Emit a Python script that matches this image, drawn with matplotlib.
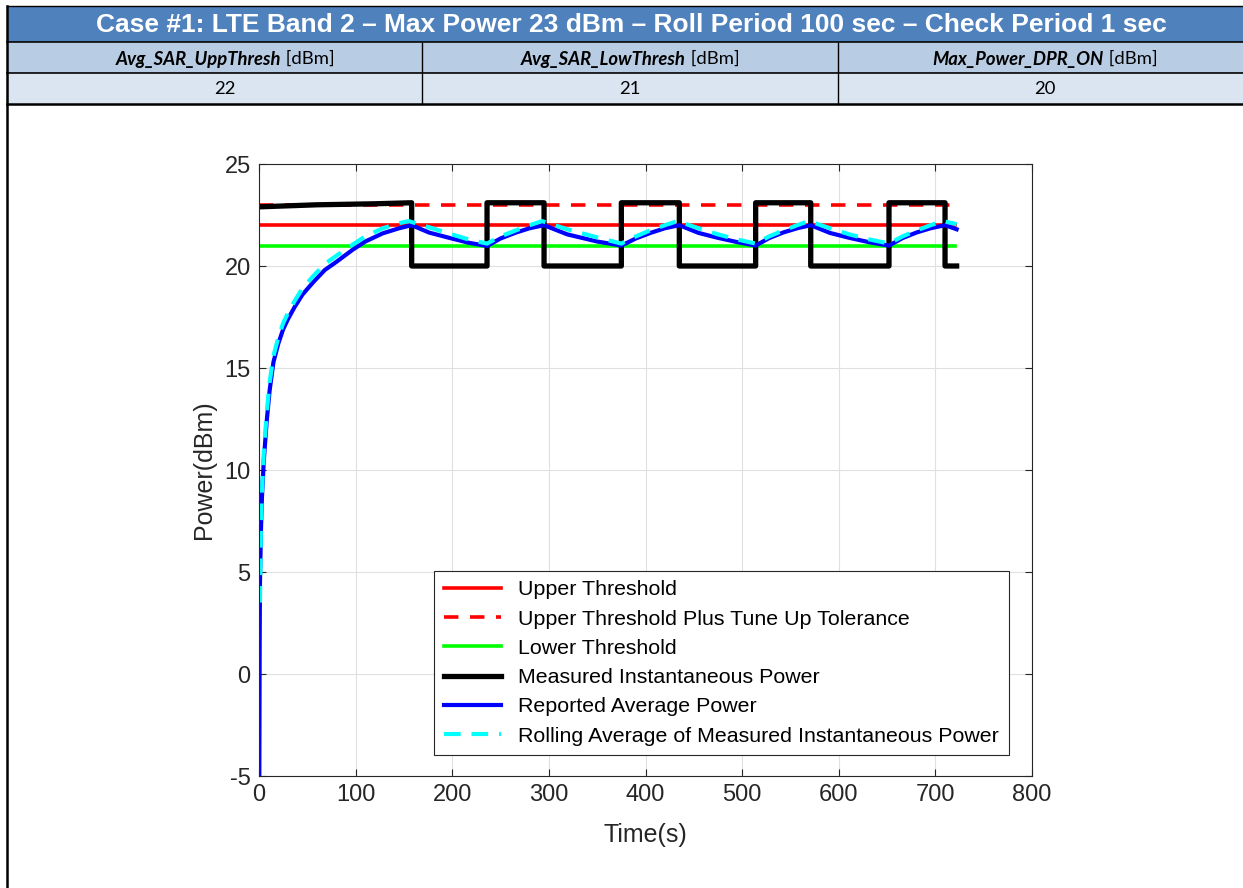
import matplotlib
matplotlib.use("Agg")
import matplotlib.pyplot as plt
from matplotlib.patches import Rectangle

plt.rcParams['font.family'] = ['Liberation Sans', 'DejaVu Sans']
plt.rcParams['axes.unicode_minus'] = False

# header table text
title = 'Case #1: LTE Band 2 \u2013 Max Power 23 dBm \u2013 Roll Period 100 sec \u2013 Check Period 1 sec'
param_names = ['Avg_SAR_UppThresh', 'Avg_SAR_LowThresh', 'Max_Power_DPR_ON']
param_unit = ' [dBm]'
param_values = ['22', '21', '20']

# threshold levels (dBm)
upp_thresh = 22
upp_tol = 23
low_thresh = 21
thresh_t = [0, 720]

# measured instantaneous power (square wave)
black_t = [0, 60, 120, 158, 158, 236, 236, 295, 295, 375, 375, 435, 435,
           514, 514, 571, 571, 652, 652, 710, 710, 722]
black_p = [22.9, 23.0, 23.05, 23.1, 20.0, 20.0, 23.1, 23.1, 20.0, 20.0, 23.1, 23.1, 20.0,
           20.0, 23.1, 23.1, 20.0, 20.0, 23.1, 23.1, 20.0, 20.0]

# reported average power
blue_t = [0.3, 0.7, 1, 2, 3, 5, 8, 11, 15, 20, 25, 30, 37, 45, 56, 68, 80, 97, 110, 128, 145, 158,
          176, 196, 217, 236, 250, 266, 280, 295, 319, 350, 375, 390, 405, 420, 435,
          455, 475, 495, 514, 528, 543, 557, 571, 591, 611, 632, 652, 666, 681, 695, 710, 722]
blue_p = [-5.5, 1.5, 4.5, 7.0, 8.6, 10.5, 12.4, 13.9, 15.3, 16.2, 16.9, 17.4, 18.0, 18.6, 19.2,
          19.8, 20.2, 20.8, 21.2, 21.6, 21.85, 22.0,
          21.64, 21.39, 21.14, 20.98, 21.35, 21.64, 21.85, 22.0, 21.55, 21.2, 21.0, 21.35, 21.62,
          21.85, 22.0, 21.62, 21.38, 21.17, 21.0, 21.37, 21.65, 21.85, 22.0, 21.62, 21.38, 21.16,
          21.0, 21.37, 21.65, 21.85, 22.0, 21.8]

# rolling average of measured instantaneous power
cyan_t = [1, 2, 3, 5, 8, 11, 15, 20, 25, 30, 37, 45, 56, 68, 80, 97, 110, 128, 145, 155,
          176, 196, 217, 236, 250, 266, 280, 293, 319, 350, 375, 390, 405, 420, 433,
          455, 475, 495, 514, 528, 543, 557, 569, 591, 611, 632, 652, 666, 681, 695, 708, 722]
cyan_p = [3.5, 7.3, 8.9, 10.9, 12.8, 14.3, 15.6, 16.5, 17.2, 17.7, 18.3, 18.9, 19.5, 20.1, 20.5,
          21.05, 21.45, 21.85, 22.1, 22.2,
          21.9, 21.6, 21.3, 21.1, 21.45, 21.75, 22.0, 22.2, 21.8, 21.4, 21.1, 21.45, 21.75, 22.0,
          22.2, 21.85, 21.55, 21.3, 21.1, 21.45, 21.75, 22.0, 22.2, 21.85, 21.55, 21.3, 21.1,
          21.45, 21.75, 22.0, 22.2, 22.05]

W, H = 1243, 888
fig = plt.figure(figsize=(W / 100, H / 100), dpi=100)

# background layer in pixel coords for the table
bg = fig.add_axes([0, 0, 1, 1], zorder=0)
bg.set_xlim(0, W)
bg.set_ylim(H, 0)
bg.axis('off')

bg.add_patch(Rectangle((7, 7), W - 7, 35, facecolor='#4F81BD', edgecolor='none'))
bg.add_patch(Rectangle((7, 43), W - 7, 30, facecolor='#B8CCE4', edgecolor='none'))
bg.add_patch(Rectangle((7, 74), W - 7, 30, facecolor='#DBE5F1', edgecolor='none'))
for yy, lw in [(6.5, 1.0), (42.5, 1.2), (73.5, 1.2), (104.5, 1.8)]:
    bg.plot([7, W], [yy, yy], color='black', lw=lw)
bg.plot([7.5, 7.5], [6, H], color='black', lw=1.8)
for xx in [422, 838]:
    bg.plot([xx, xx], [43, 104], color='black', lw=1.0)

bg.text(631, 25, title, color='white', fontsize=19, fontweight='bold',
        ha='center', va='center')

centers = [225, 630, 1045]
fig.canvas.draw()
r = fig.canvas.get_renderer()
for cx, name, val in zip(centers, param_names, param_values):
    t1 = bg.text(0, 59, name, fontsize=13.3, fontweight='bold', style='italic',
                 family='Lato', ha='left', va='center')
    t2 = bg.text(0, 59, param_unit, fontsize=13.3, family='Lato', ha='left', va='center')
    w1 = t1.get_window_extent(r).width
    w2 = t2.get_window_extent(r).width
    x0 = cx - (w1 + w2) / 2
    t1.set_x(x0)
    t2.set_x(x0 + w1)
    bg.text(cx, 89, val, fontsize=13.3, family='Lato', ha='center', va='center')

# main plot
ax = fig.add_axes([259 / W, 112 / H, 773 / W, 612 / H], zorder=1)
ax.plot(thresh_t, [upp_thresh] * 2, color='#FF0000', lw=2.6, label='Upper Threshold')
ax.plot(thresh_t, [upp_tol] * 2, color='#FF0000', lw=2.6, linestyle=(0, (4, 3.2)),
        label='Upper Threshold Plus Tune Up Tolerance')
ax.plot(thresh_t, [low_thresh] * 2, color='#00FF00', lw=2.6, label='Lower Threshold')
ax.plot(black_t, black_p, color='black', lw=3.8, label='Measured Instantaneous Power')
ax.plot(blue_t, blue_p, color='#0000FF', lw=3.0, label='Reported Average Power')
ax.plot(cyan_t, cyan_p, color='#00FFFF', lw=3.0, linestyle=(0, (4, 2.6)),
        label='Rolling Average of Measured Instantaneous Power')

ax.set_xlim(0, 800)
ax.set_ylim(-5, 25)
ax.set_xticks(range(0, 801, 100))
ax.set_yticks(range(-5, 26, 5))
ax.grid(True, color='#E0E0E0', lw=0.8)
ax.set_axisbelow(True)
ax.tick_params(direction='in', length=5, width=0.8, colors='#262626', labelsize=17,
               top=True, right=True, labeltop=False, labelright=False, pad=6)
for s in ax.spines.values():
    s.set_color('#262626')
    s.set_linewidth(0.8)
ax.set_xlabel('Time(s)', fontsize=18, color='#262626', labelpad=12)
ax.set_ylabel('Power(dBm)', fontsize=18, color='#262626', labelpad=6)

leg = ax.legend(loc='lower right', bbox_to_anchor=(0.970, 0.034), borderaxespad=0,
                fontsize=15.4, fancybox=False, framealpha=1, edgecolor='#262626',
                handlelength=2.7, handletextpad=0.8, labelspacing=0.48, borderpad=0.45)
leg.get_frame().set_linewidth(0.8)

fig.savefig('out.png', dpi=100)
